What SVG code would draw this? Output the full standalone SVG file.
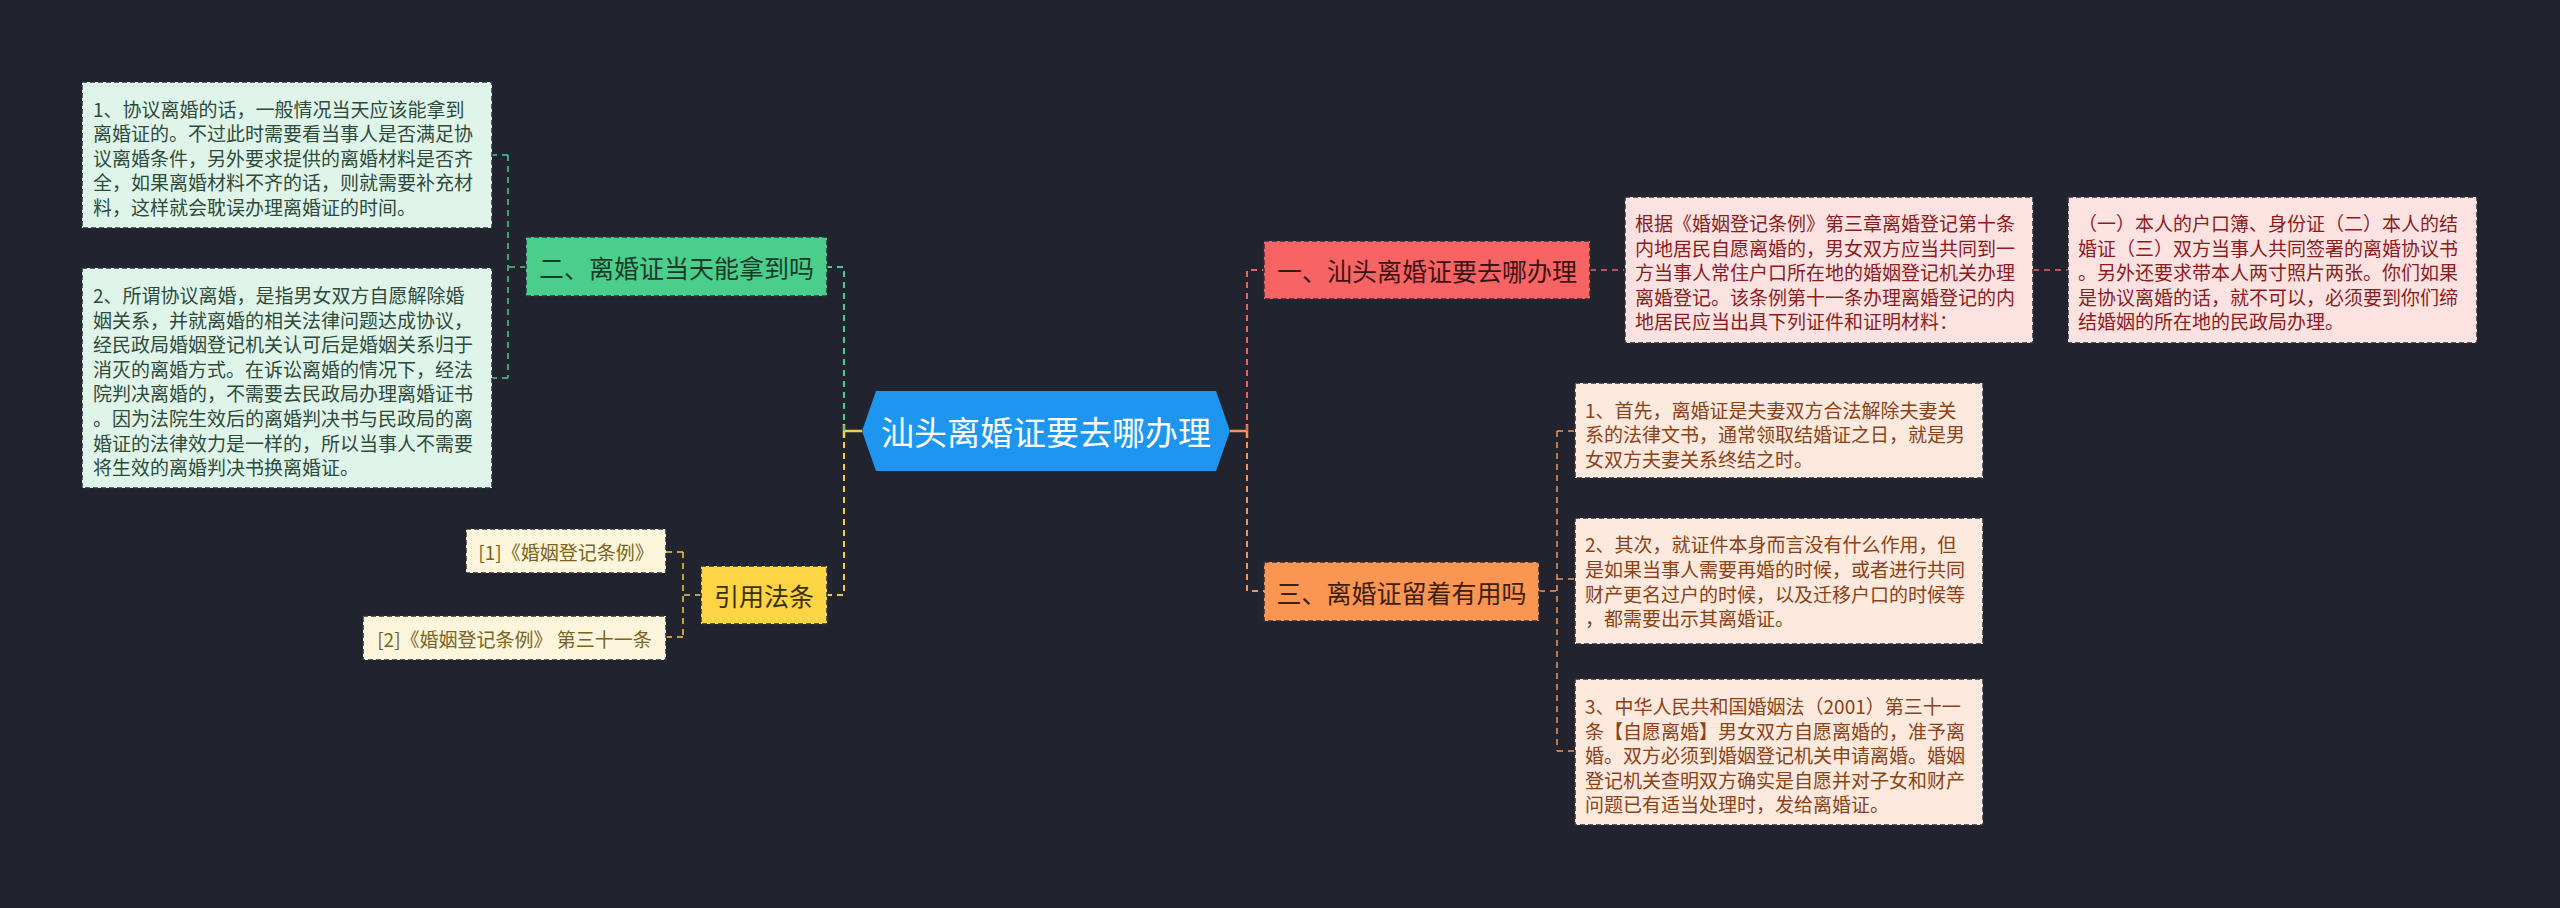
<svg xmlns="http://www.w3.org/2000/svg" width="2560" height="908" viewBox="0 0 2560 908">
<style>
  text { font-family: "Noto Sans CJK SC", "Noto Sans", "Liberation Sans", sans-serif; dominant-baseline: central; }
  .box { stroke: #2b2e3a; stroke-width: 1.5; stroke-dasharray: 5 3; }
  .br { font-size: 25px; text-anchor: middle; }
  .body { font-size: 19px; }
  .c { fill: none; stroke-width: 2; stroke-dasharray: 6 5; }
  .cs { fill: none; stroke-width: 1.5; stroke-dasharray: 6 5; }
  .g { stroke: #4ecb8d; } .y { stroke: #f5cc45; } .r { stroke: #e86565; } .o { stroke: #f0965a; }
</style>
<rect width="2560" height="908" fill="#21242f"/>
<g id="connectors">
  <line x1="844" y1="431" x2="862" y2="431" stroke="#f5cc45" stroke-width="2.5"/>
  <line x1="844" y1="424" x2="844" y2="438" stroke="#f5cc45" stroke-width="2.5"/>
  <path class="c g" d="M844 431 V267 H827"/>
  <path class="c y" d="M844 431 V595 H827"/>
  <line x1="1230" y1="431" x2="1247" y2="431" stroke="#f0965a" stroke-width="2.5"/>
  <line x1="1247" y1="424" x2="1247" y2="438" stroke="#f0965a" stroke-width="2.5"/>
  <path class="c r" d="M1247 431 V270 H1264"/>
  <path class="c o" d="M1247 431 V591 H1264"/>
  <path class="cs g" d="M526 267 H508 M508 155 V378 M508 155 H492 M508 378 H492"/>
  <path class="cs y" d="M701 595 H683 M683 552 V637 M683 552 H666 M683 637 H666"/>
  <path class="cs r" d="M1590 270 H1625 M2033 270 H2068"/>
  <path class="cs o" d="M1539 591 H1557 M1557 431 V751 M1557 431 H1575 M1557 579 H1575 M1557 751 H1575"/>
</g>
<g id="root">
  <polygon points="862,431 876,391 1216,391 1230,431 1216,471 876,471" fill="#1e96f0"/>
  <text x="1046" y="431" font-size="33" text-anchor="middle" fill="#ffffff">汕头离婚证要去哪办理</text>
</g>
<g id="branch2">
  <rect class="box" x="526" y="237" width="301" height="59" fill="#4bcd8c"/>
  <text class="br" x="676.5" y="267" fill="#173a28">二、离婚证当天能拿到吗</text>
</g>
<g id="b2c1">
  <rect class="box" x="82" y="82" width="410" height="146" fill="#dff5ea"/>
  <text class="body" fill="#2f4a3b"><tspan x="93" y="108">1、协议离婚的话，一般情况当天应该能拿到</tspan><tspan x="93" dy="24.4">离婚证的。不过此时需要看当事人是否满足协</tspan><tspan x="93" dy="24.4">议离婚条件，另外要求提供的离婚材料是否齐</tspan><tspan x="93" dy="24.4">全，如果离婚材料不齐的话，则就需要补充材</tspan><tspan x="93" dy="24.4">料，这样就会耽误办理离婚证的时间。</tspan></text>
</g>
<g id="b2c2">
  <rect class="box" x="82" y="268" width="410" height="220" fill="#dff5ea"/>
  <text class="body" fill="#2f4a3b"><tspan x="93" y="294">2、所谓协议离婚，是指男女双方自愿解除婚</tspan><tspan x="93" dy="24.6">姻关系，并就离婚的相关法律问题达成协议，</tspan><tspan x="93" dy="24.6">经民政局婚姻登记机关认可后是婚姻关系归于</tspan><tspan x="93" dy="24.6">消灭的离婚方式。在诉讼离婚的情况下，经法</tspan><tspan x="93" dy="24.6">院判决离婚的，不需要去民政局办理离婚证书</tspan><tspan x="93" dy="24.6">。因为法院生效后的离婚判决书与民政局的离</tspan><tspan x="93" dy="24.6">婚证的法律效力是一样的，所以当事人不需要</tspan><tspan x="93" dy="24.6">将生效的离婚判决书换离婚证。</tspan></text>
</g>
<g id="branchRef">
  <rect class="box" x="701" y="566" width="126" height="58" fill="#fdd444"/>
  <text class="br" x="764" y="595" fill="#3b2f05">引用法条</text>
</g>
<g id="ref1">
  <rect class="box" x="466" y="529" width="200" height="44" fill="#fdf5dc"/>
  <text class="body" x="566" y="551" text-anchor="middle" fill="#7a6420">[1]《婚姻登记条例》</text>
</g>
<g id="ref2">
  <rect class="box" x="363" y="616" width="303" height="44" fill="#fdf5dc"/>
  <text class="body" x="514.5" y="638" text-anchor="middle" fill="#7a6420">[2]《婚姻登记条例》 第三十一条</text>
</g>
<g id="branch1">
  <rect class="box" x="1264" y="241" width="326" height="58" fill="#f86464"/>
  <text class="br" x="1427" y="270" fill="#3a1414">一、汕头离婚证要去哪办理</text>
</g>
<g id="b1c1">
  <rect class="box" x="1625" y="197" width="408" height="146" fill="#fde2e2"/>
  <text class="body" fill="#8c1c1c"><tspan x="1635" y="222">根据《婚姻登记条例》第三章离婚登记第十条</tspan><tspan x="1635" dy="24.6">内地居民自愿离婚的，男女双方应当共同到一</tspan><tspan x="1635" dy="24.6">方当事人常住户口所在地的婚姻登记机关办理</tspan><tspan x="1635" dy="24.6">离婚登记。该条例第十一条办理离婚登记的内</tspan><tspan x="1635" dy="24.6">地居民应当出具下列证件和证明材料：</tspan></text>
</g>
<g id="b1c2">
  <rect class="box" x="2068" y="197" width="409" height="146" fill="#fde2e2"/>
  <text class="body" fill="#8c1c1c"><tspan x="2078" y="222">（一）本人的户口簿、身份证（二）本人的结</tspan><tspan x="2078" dy="24.6">婚证（三）双方当事人共同签署的离婚协议书</tspan><tspan x="2078" dy="24.6">。另外还要求带本人两寸照片两张。你们如果</tspan><tspan x="2078" dy="24.6">是协议离婚的话，就不可以，必须要到你们缔</tspan><tspan x="2078" dy="24.6">结婚姻的所在地的民政局办理。</tspan></text>
</g>
<g id="branch3">
  <rect class="box" x="1264" y="562" width="275" height="59" fill="#fb9552"/>
  <text class="br" x="1401.5" y="591.5" fill="#3d2010">三、离婚证留着有用吗</text>
</g>
<g id="b3c1">
  <rect class="box" x="1575" y="383" width="408" height="95" fill="#fde9dd"/>
  <text class="body" fill="#8a4216"><tspan x="1585" y="409">1、首先，离婚证是夫妻双方合法解除夫妻关</tspan><tspan x="1585" dy="24.4">系的法律文书，通常领取结婚证之日，就是男</tspan><tspan x="1585" dy="24.4">女双方夫妻关系终结之时。</tspan></text>
</g>
<g id="b3c2">
  <rect class="box" x="1575" y="518" width="408" height="126" fill="#fde9dd"/>
  <text class="body" fill="#8a4216"><tspan x="1585" y="543">2、其次，就证件本身而言没有什么作用，但</tspan><tspan x="1585" dy="24.8">是如果当事人需要再婚的时候，或者进行共同</tspan><tspan x="1585" dy="24.8">财产更名过户的时候，以及迁移户口的时候等</tspan><tspan x="1585" dy="24.8">，都需要出示其离婚证。</tspan></text>
</g>
<g id="b3c3">
  <rect class="box" x="1575" y="679" width="408" height="146" fill="#fde9dd"/>
  <text class="body" fill="#8a4216"><tspan x="1585" y="705">3、中华人民共和国婚姻法（2001）第三十一</tspan><tspan x="1585" dy="24.6">条【自愿离婚】男女双方自愿离婚的，准予离</tspan><tspan x="1585" dy="24.6">婚。双方必须到婚姻登记机关申请离婚。婚姻</tspan><tspan x="1585" dy="24.6">登记机关查明双方确实是自愿并对子女和财产</tspan><tspan x="1585" dy="24.6">问题已有适当处理时，发给离婚证。</tspan></text>
</g>
</svg>
